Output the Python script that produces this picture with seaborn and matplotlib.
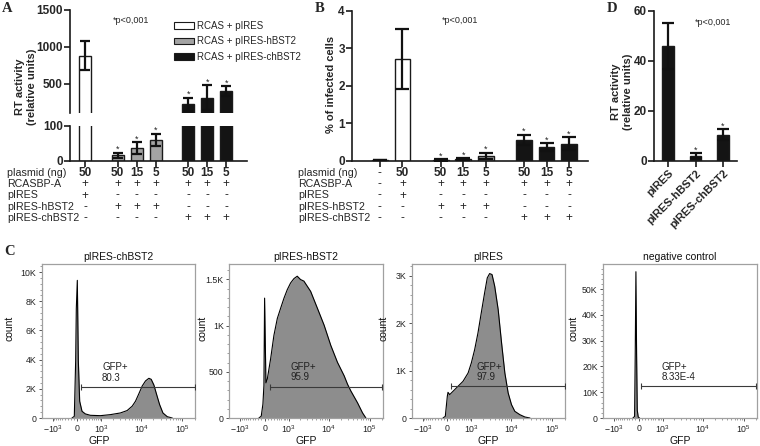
import numpy as np
import matplotlib
matplotlib.use("Agg")
import matplotlib.pyplot as plt
import matplotlib.transforms as mtransforms
from matplotlib.patches import Patch
from matplotlib.ticker import FixedLocator, FuncFormatter, AutoMinorLocator
import seaborn as sns

W, H = 760, 446

# ---------------- data ----------------
row_labels = ["plasmid (ng)", "RCASBP-A", "pIRES", "pIRES-hBST2", "pIRES-chBST2"]

# panel A - RT activity
a_legend = ["RCAS + pIRES", "RCAS + pIRES-hBST2", "RCAS + pIRES-chBST2"]
a_group_sizes = [1, 3, 3]
a_kind = ["white", "gray", "gray", "gray", "black", "black", "black"]
a_mean = [880, 16, 36, 60, 218, 310, 400]
a_err = [200, 7, 18, 18, 90, 165, 64]
a_star = [False, True, True, True, True, True, True]
a_plasmid = ["50", "50", "15", "5", "50", "15", "5"]
a_rcas = ["+", "+", "+", "+", "+", "+", "+"]
a_pires = ["+", "-", "-", "-", "-", "-", "-"]
a_hbst2 = ["-", "+", "+", "+", "-", "-", "-"]
a_chbst2 = ["-", "-", "-", "-", "+", "+", "+"]

# panel B - % infected cells
b_group_sizes = [2, 3, 3]
b_kind = ["white", "white", "gray", "gray", "gray", "black", "black", "black"]
b_mean = [0.02, 2.72, 0.02, 0.04, 0.13, 0.55, 0.36, 0.45]
b_err = [0.01, 0.80, 0.02, 0.03, 0.08, 0.14, 0.10, 0.17]
b_star = [False, False, True, True, True, True, True, True]
b_plasmid = ["-", "50", "50", "15", "5", "50", "15", "5"]
b_rcas = ["-", "+", "+", "+", "+", "+", "+", "+"]
b_pires = ["-", "+", "-", "-", "-", "-", "-", "-"]
b_hbst2 = ["-", "-", "+", "+", "+", "-", "-", "-"]
b_chbst2 = ["-", "-", "-", "-", "-", "+", "+", "+"]

# panel D
d_labels = ["pIRES", "pIRES-hBST2", "pIRES-chBST2"]
d_mean = [46, 2.0, 10.3]
d_err = [9.2, 1.0, 2.2]
d_star = [False, True, True]

# panel C - GFP histograms
c_titles = ["pIRES-chBST2", "pIRES-hBST2", "pIRES", "negative control"]
c_gate_pct = ["80.3", "95.9", "97.9", "8.33E-4"]
c_gate_count = [2120, 340, 667, 12250]
c_gate_low = [125, 155, 135, 60]
c_label_x = [1050, 1120, 1370, 900]
c_ymax = [10550, 1665, 3250, 59800]
c_ystep = [2000, 500, 1000, 10000]

chbst2_gfp = [-156, -83, -41, -21, 10, 41, 83, 157, 267, 451, 945, 1738, 3100, 4550,
              6050, 7290, 8800, 10620, 12800, 15450, 17600, 20470, 23790, 28190, 33970,
              43330, 57400]
chbst2_count = [0, 115, 3930, 7500, 9430, 3930, 1150, 460, 280, 185, 160, 230, 345, 510,
                810, 1150, 1660, 2190, 2540, 2720, 2650, 2260, 1620, 920, 345, 90, 0]
hbst2_gfp = [-178, -104, -52, -21, 0, 41, 83, 189, 301, 427, 563, 723, 902, 1117, 1371,
             1669, 2026, 2458, 3612, 5297, 7714, 11230, 16330, 23790, 28720, 34620, 50330,
             66660, 80380]
hbst2_count = [0, 20, 150, 350, 1296, 380, 420, 639, 894, 1077, 1186, 1296, 1387, 1460, 1507,
               1533, 1497, 1480, 1369, 1186, 1004, 785, 602, 456, 365, 292, 164, 55, 0]
pires_gfp = [-125, -52, -21, 10, 31, 83, 189, 362, 563, 814, 1006, 1238, 1512, 1837, 2231,
             2600, 2975, 3412, 3967, 4828, 5847, 7030, 8470, 10210, 12300, 16330, 21650, 28720]
pires_count = [0, 35, 246, 458, 542, 493, 563, 669, 774, 950, 1162, 1443, 1795, 2218, 2640,
               2957, 3048, 3027, 2781, 2288, 1584, 950, 528, 282, 141, 70, 21, 0]
neg_gfp = [-178, -125, -104, -83, -62, -41, -10, 31]
neg_count = [0, 600, 25000, 56800, 25000, 3000, 300, 0]

c_gfp = [chbst2_gfp, hbst2_gfp, pires_gfp, neg_gfp]
c_count = [chbst2_count, hbst2_count, pires_count, neg_count]

# ---------------- style ----------------
sns.set_theme(style="ticks")
plt.rcParams["font.family"] = ["Liberation Sans", "DejaVu Sans"]
plt.rcParams["mathtext.fontset"] = "custom"
plt.rcParams["mathtext.rm"] = "Liberation Sans"
plt.rcParams["mathtext.it"] = "Liberation Sans:italic"
plt.rcParams["mathtext.bf"] = "Liberation Sans:bold"

fill = {"white": "white", "gray": "#a3a3a3", "black": "#141414"}
dark = "#1a1a1a"

fig = plt.figure(figsize=(W / 100, H / 100), dpi=100)


def px_axes(l, t, r, b):
    return fig.add_axes([l / W, 1 - b / H, (r - l) / W, (b - t) / H])


def group_positions(sizes, gap):
    pos, x = [], 0.0
    for s in sizes:
        for _ in range(s):
            pos.append(x)
            x += 1
        x += gap
    return np.array(pos)


def style_bar_axes(ax, bottom=True):
    sns.despine(ax=ax, bottom=not bottom)
    for side in ["left", "bottom"]:
        ax.spines[side].set_linewidth(1.2)
        ax.spines[side].set_color(dark)
    ax.tick_params(axis="both", direction="out", length=4, width=1.2, color=dark,
                   labelsize=8.5, pad=1.2)
    for lbl in ax.get_yticklabels():
        lbl.set_fontweight("bold")
    ax.set_facecolor("none")


def draw_bars(ax, pos, means, errs, kinds, stars, width, capsize, lo=None):
    ax.bar(pos, means, width=width, color=[fill[k] for k in kinds],
           edgecolor=dark, linewidth=1.0, zorder=2)
    pos, means, errs = np.asarray(pos), np.asarray(means), np.asarray(errs)
    keep = np.ones(len(pos), bool) if lo is None else (means + errs) > lo
    ax.errorbar(pos[keep], means[keep], yerr=errs[keep], fmt="none", ecolor="#111111",
                elinewidth=1.6, capsize=capsize, capthick=1.6, zorder=3)
    for x, m, e, s in zip(pos, means, errs, stars):
        if s:
            ax.annotate("*", (x, m + e), xytext=(0, 0.5), textcoords="offset points",
                        ha="center", va="baseline", fontsize=6.5, color="#222")


def draw_table(ax, pos, rows, label_x):
    trans = mtransforms.blended_transform_factory(ax.transData, fig.transFigure)
    row_y = [172.7, 184.1, 195.5, 206.9, 218.3]
    for r, (lab, vals) in enumerate(zip(row_labels, rows)):
        y = 1 - row_y[r] / H
        fig.text(label_x / W, y, lab, ha="left", va="center", fontsize=7.7)
        for x, v in zip(pos, vals):
            bold = r == 0 and v != "-"
            ax.text(x, y, v, transform=trans, ha="center", va="center",
                    fontsize=8.5, fontweight="bold" if bold else "normal", clip_on=False)


# ---------------- panel A (broken axis) ----------------
a_pos = group_positions(a_group_sizes, 0.72)
axA_top = px_axes(70, 10, 247, 113)
axA_bot = px_axes(70, 126, 247, 160.7)
draw_bars(axA_top, a_pos, a_mean, a_err, a_kind, a_star, 0.64, 3.6, lo=100)
draw_bars(axA_bot, a_pos, a_mean, a_err, a_kind, a_star, 0.64, 3.6)
for ax in (axA_top, axA_bot):
    ax.set_xlim(-0.79, 8.53)
axA_top.set_ylim(100, 1500)
axA_top.set_yticks([500, 1000, 1500])
axA_top.set_xticks([])
axA_bot.set_ylim(0, 100)
axA_bot.set_yticks([0, 100])
axA_bot.set_xticks(a_pos)
axA_bot.set_xticklabels([])
style_bar_axes(axA_top, bottom=False)
style_bar_axes(axA_bot)
draw_table(axA_bot, a_pos, [a_plasmid, a_rcas, a_pires, a_hbst2, a_chbst2], 7)

fig.legend([Patch(facecolor=fill[k], edgecolor=dark, linewidth=0.8)
            for k in ["white", "gray", "black"]], a_legend,
           loc="upper left", bbox_to_anchor=(174 / W, 1 - 21 / H), frameon=False,
           fontsize=7, handlelength=2.1, handleheight=0.65, handletextpad=0.25,
           labelspacing=0.55, borderpad=0, borderaxespad=0)
fig.text(26 / W, 1 - 87 / H, "RT activity\n(relative units)", rotation=90,
         ha="center", va="center", fontsize=8, fontweight="bold")
fig.text(113 / W, 1 - 20.7 / H, "*p<0,001", ha="left", va="center", fontsize=6.5)

# ---------------- panel B ----------------
b_pos = group_positions(b_group_sizes, 0.7)
axB = px_axes(352, 10.7, 588, 160.7)
draw_bars(axB, b_pos, b_mean, b_err, b_kind, b_star, 0.7, 5.2)
axB.set_xlim(-1.24, 9.24)
axB.set_ylim(0, 4)
axB.set_yticks([0, 1, 2, 3, 4])
axB.set_xticks(b_pos)
axB.set_xticklabels([])
style_bar_axes(axB)
draw_table(axB, b_pos, [b_plasmid, b_rcas, b_pires, b_hbst2, b_chbst2], 298)
fig.text(331 / W, 1 - 84 / H, "% of infected cells", rotation=90,
         ha="center", va="center", fontsize=8, fontweight="bold")
fig.text(441.7 / W, 1 - 20.7 / H, "*p<0,001", ha="left", va="center", fontsize=6.5)

# ---------------- panel D ----------------
axD = px_axes(654, 10.7, 737, 160.7)
sns.barplot(x=d_labels, y=d_mean, color=fill["black"], saturation=1, width=0.43,
            errorbar=None, edgecolor=dark, linewidth=1.0, ax=axD)
d_pos = np.arange(len(d_labels))
axD.errorbar(d_pos, d_mean, yerr=d_err, fmt="none", ecolor="#111111", elinewidth=1.6,
             capsize=4.2, capthick=1.6, zorder=3)
for x, m, e, s in zip(d_pos, d_mean, d_err, d_star):
    if s:
        axD.annotate("*", (x, m + e), xytext=(0, 0.5), textcoords="offset points",
                     ha="center", va="baseline", fontsize=6.5, color="#222")
axD.set_xlim(-0.51, 2.51)
axD.set_ylim(0, 60)
axD.set_yticks([0, 20, 40, 60])
style_bar_axes(axD)
axD.set_xticks(d_pos)
axD.set_xticklabels(d_labels, rotation=45, ha="right", rotation_mode="anchor",
                    fontsize=8, fontweight="bold")
axD.set_xlabel("")
fig.text(622 / W, 1 - 92 / H, "RT activity\n(relative units)", rotation=90,
         ha="center", va="center", fontsize=8, fontweight="bold")
fig.text(695 / W, 1 - 22.7 / H, "*p<0,001", ha="left", va="center", fontsize=6.5)

# ---------------- panel C ----------------
def fwd(x):
    return np.arcsinh(np.asarray(x) / 550.0)


def inv(u):
    return 550.0 * np.sinh(np.asarray(u))


def kfmt(v, _):
    if v == 0:
        return "0"
    if v >= 1000:
        return f"{v / 1000:g}K"
    return f"{v:g}"


c_left = [41.7, 229.3, 411.7, 603.3]
c_ylab_x = [-0.175, -0.14, -0.152, -0.165]
c_xlab_x = [0.375, 0.5, 0.5, 0.5]
x_major = [-1000, 0, 1000, 10000, 100000]
x_minor = ([-v for v in range(100, 1000, 100)] + list(range(100, 1000, 100))
           + [k * 10 ** n for n in (3, 4) for k in range(2, 10)] + [2e5])

for i in range(4):
    ax = px_axes(c_left[i], 264, c_left[i] + 153.3, 418)
    ax.set_xscale("function", functions=(fwd, inv))
    ax.set_xlim(-1950, 2.05e5)
    ax.set_ylim(0, c_ymax[i])
    x = np.array(c_gfp[i], dtype=float)
    y = np.array(c_count[i], dtype=float)
    ax.fill_between(x, y, color="#8d8d8d", lw=0, zorder=1)
    sns.lineplot(x=x, y=y, ax=ax, color="black", lw=0.8, zorder=2)

    # gate
    gx = [c_gate_low[i], 2.0e5]
    gy = [c_gate_count[i], c_gate_count[i]]
    ax.plot(gx, gy, color="#3a3a3a", lw=0.8, marker="|", markersize=5, mew=0.8, zorder=3)
    ax.annotate("GFP+\n" + c_gate_pct[i], (c_label_x[i], c_gate_count[i]),
                xytext=(0, 3), textcoords="offset points", ha="left", va="bottom",
                fontsize=7, linespacing=1.05, color="#222")

    ax.xaxis.set_major_locator(FixedLocator(x_major))
    ax.xaxis.set_minor_locator(FixedLocator(x_minor))
    ax.set_xticklabels([r"$-10^3$", "0", r"$10^3$", r"$10^4$", r"$10^5$"])
    ax.yaxis.set_major_locator(FixedLocator(np.arange(0, c_ymax[i], c_ystep[i])))
    ax.yaxis.set_major_formatter(FuncFormatter(kfmt))
    ax.yaxis.set_minor_locator(AutoMinorLocator(5))
    for side in ax.spines:
        ax.spines[side].set_color("#a0a0a0")
        ax.spines[side].set_linewidth(0.9)
    ax.tick_params(axis="both", which="major", direction="out", length=2.5, width=0.7,
                   color="#555", labelsize=6.3, labelcolor="#222", pad=1.5)
    ax.tick_params(axis="both", which="minor", direction="out", length=1.3, width=0.5,
                   color="#777")
    ax.set_title(c_titles[i], fontsize=7.5, pad=3, color="#111")
    ax.set_xlabel("GFP", fontsize=7.5, color="#111")
    ax.set_ylabel("count", fontsize=7.5, color="#111")
    ax.yaxis.set_label_coords(c_ylab_x[i], 0.58)
    ax.xaxis.set_label_coords(c_xlab_x[i], -0.12)

# ---------------- panel letters ----------------
for lab, (px, py) in zip("ABDC", [(7, 9), (320, 8), (612, 8), (10, 252)]):
    fig.text(px / W, 1 - py / H, lab, ha="center", va="center", fontsize=10.5,
             fontweight="bold", family="Liberation Serif")

fig.savefig("out.png", dpi=100)
